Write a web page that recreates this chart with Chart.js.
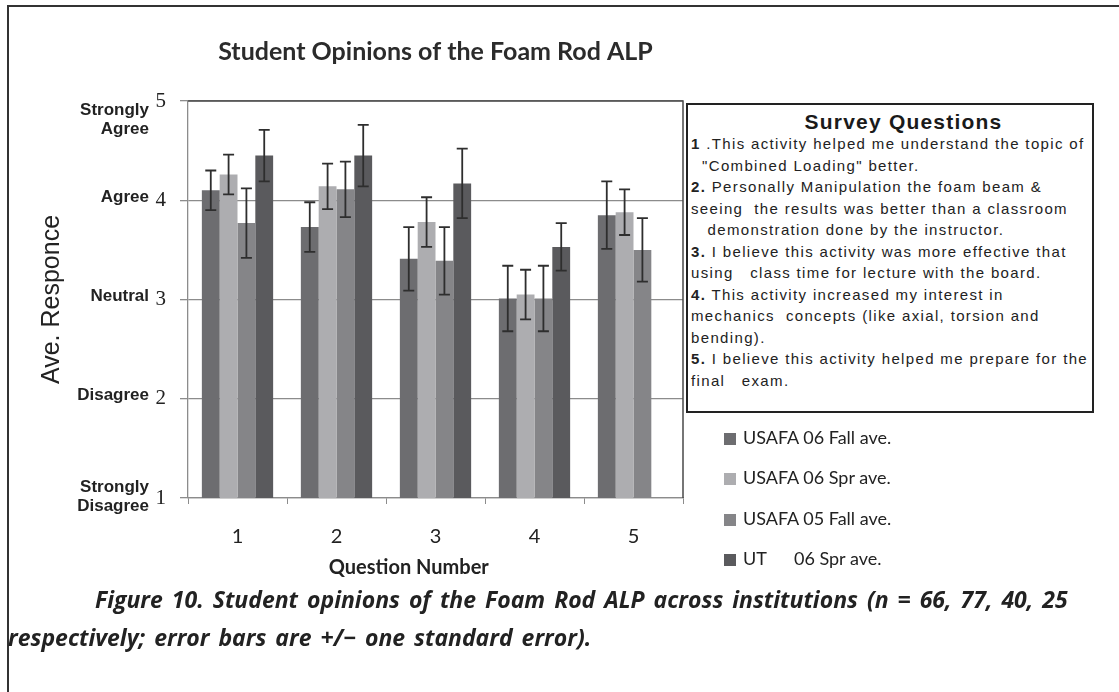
<!DOCTYPE html>
<html>
<head>
<meta charset="utf-8">
<script src="https://cdn.jsdelivr.net/npm/chart.js@4.4.1/dist/chart.umd.min.js"></script>
<style>
  body { margin: 0; background: #fff; }
  #wrap { position: relative; width: 1119px; height: 692px; overflow: hidden; background: #fff; }
  #frame { position: absolute; left: 7px; top: 5px; width: 1130px; height: 700px;
           border-top: 2px solid #333; border-left: 2px solid #333; }
  #chartBox { position: absolute; left: 0; top: 0; width: 868px; height: 692px; }
  #survey { position: absolute; left: 686px; top: 103px; width: 408px; height: 310px; box-sizing: border-box;
            border: 2px solid #222; background: #fff; padding: 5px 0 0 3px;
            font-family: "Liberation Sans", Arial, sans-serif; font-size: 15px; color: #222; }
  #survey .head { text-align: center; font-size: 21px; line-height: 23px; padding-left: 24px; color: #1a1a1a;
                  font-weight: 600; letter-spacing: 1.2px; }
  #survey .ln { white-space: pre; line-height: 21.5px; letter-spacing: 1.35px; }
  #legend { position: absolute; left: 724px; top: 417px; font-family: Lato, sans-serif; font-size: 18px; color: #222; }
  #legend .item { height: 40.3px; line-height: 40.3px; white-space: pre; }
  #legend .sw { display: inline-block; width: 12px; height: 12px; margin-right: 7px; vertical-align: -1px; }
  .cap { position: absolute; white-space: pre; font-family: "Open Sans", sans-serif; font-weight: bold; font-style: italic;
         font-size: 23px; word-spacing: 3px; color: #222; }
</style>
</head>
<body>
<div id="wrap">
  <div id="frame"></div>
  <div id="chartBox"><canvas id="foamChart" width="868" height="692"></canvas></div>
  <div id="survey"></div>
  <div id="legend"></div>
  <div class="cap" style="left:95px; top:583px;">Figure 10. Student opinions of the Foam Rod ALP across institutions (n = 66, 77, 40, 25</div>
  <div class="cap" style="left:8px; top:621px;">respectively; error bars are +/− one standard error).</div>
</div>
<script>
// question numbers on the x axis
const questions = ['1', '2', '3', '4', '5'];
const seriesNames = ['USAFA 06 Fall ave.', 'USAFA 06 Spr ave.', 'USAFA 05 Fall ave.', 'UT      06 Spr ave.'];
const seriesColors = ['#6d6d70', '#adadb0', '#858588', '#5a5a5d'];

// average responses (1 = strongly disagree .. 5 = strongly agree)
const usafa06Fall = [4.10, 3.73, 3.41, 3.01, 3.85];
const usafa06Spr  = [4.26, 4.14, 3.78, 3.05, 3.88];
const usafa05Fall = [3.77, 4.11, 3.39, 3.01, 3.50];
const ut06Spr     = [4.45, 4.45, 4.17, 3.53, null];

// +/- one standard error
const usafa06FallErr = [0.20, 0.25, 0.32, 0.33, 0.34];
const usafa06SprErr  = [0.20, 0.23, 0.25, 0.25, 0.23];
const usafa05FallErr = [0.35, 0.28, 0.34, 0.33, 0.32];
const ut06SprErr     = [0.26, 0.31, 0.35, 0.24, null];

const yTicks = [1, 2, 3, 4, 5];
const yTickWords = [['Strongly', 'Disagree'], ['Disagree'], ['Neutral'], ['Agree'], ['Strongly', 'Agree']];

const surveyTitle = 'Survey Questions';
const surveyLines = [
  ['1', ' .This activity helped me understand the topic of'],
  ['', '  "Combined Loading" better.'],
  ['2.', ' Personally Manipulation the foam beam &'],
  ['', 'seeing  the results was better than a classroom'],
  ['', '   demonstration done by the instructor.'],
  ['3.', ' I believe this activity was more effective that'],
  ['', 'using   class time for lecture with the board.'],
  ['4.', ' This activity increased my interest in'],
  ['', 'mechanics  concepts (like axial, torsion and'],
  ['', 'bending).'],
  ['5.', ' I believe this activity helped me prepare for the'],
  ['', 'final   exam.']
];

const allValues = [usafa06Fall, usafa06Spr, usafa05Fall, ut06Spr];
const allErrors = [usafa06FallErr, usafa06SprErr, usafa05FallErr, ut06SprErr];

// survey box text
const survey = document.getElementById('survey');
const head = document.createElement('div');
head.className = 'head';
head.textContent = surveyTitle;
survey.appendChild(head);
surveyLines.forEach(function (l) {
  const d = document.createElement('div');
  d.className = 'ln';
  if (l[0]) {
    const b = document.createElement('b');
    b.textContent = l[0];
    d.appendChild(b);
  }
  d.appendChild(document.createTextNode(l[1]));
  survey.appendChild(d);
});

// legend
const legend = document.getElementById('legend');
seriesNames.forEach(function (name, i) {
  const row = document.createElement('div');
  row.className = 'item';
  const sw = document.createElement('span');
  sw.className = 'sw';
  sw.style.background = seriesColors[i];
  row.appendChild(sw);
  row.appendChild(document.createTextNode(name));
  legend.appendChild(row);
});

// error bars drawn on top of the bars
const errorBars = {
  id: 'errorBars',
  afterDatasetsDraw(chart) {
    const ctx = chart.ctx;
    const y = chart.scales.y;
    ctx.save();
    ctx.strokeStyle = '#2e2e2e';
    ctx.lineWidth = 1.8;
    chart.data.datasets.forEach(function (ds, i) {
      const meta = chart.getDatasetMeta(i);
      meta.data.forEach(function (bar, j) {
        const v = ds.data[j];
        const e = allErrors[i][j];
        if (v == null || e == null) return;
        const top = y.getPixelForValue(v + e);
        const bot = y.getPixelForValue(v - e);
        ctx.beginPath();
        ctx.moveTo(bar.x, top); ctx.lineTo(bar.x, bot);
        ctx.moveTo(bar.x - 5.5, top); ctx.lineTo(bar.x + 5.5, top);
        ctx.moveTo(bar.x - 5.5, bot); ctx.lineTo(bar.x + 5.5, bot);
        ctx.stroke();
      });
    });
    ctx.restore();
  }
};

// word labels next to the y tick numbers, plus the plot frame
const yWords = {
  id: 'yWords',
  afterDraw(chart) {
    const ctx = chart.ctx;
    const y = chart.scales.y;
    const area = chart.chartArea;
    ctx.save();
    ctx.strokeStyle = '#4a4a4a';
    ctx.lineWidth = 1.5;
    ctx.beginPath();
    ctx.moveTo(area.left, area.top); ctx.lineTo(area.right, area.top); ctx.lineTo(area.right, area.bottom);
    ctx.stroke();
    ctx.font = 'bold 17px "Liberation Sans", Arial, sans-serif';
    ctx.fillStyle = '#222';
    ctx.textAlign = 'right';
    ctx.textBaseline = 'middle';
    yTicks.forEach(function (v, i) {
      const words = yTickWords[i];
      let center = y.getPixelForValue(v) - 3;
      if (words.length > 1) center = v === 5 ? y.getPixelForValue(v) + 19 : y.getPixelForValue(v) - 1;
      const startY = center - (words.length - 1) * 19 / 2;
      words.forEach(function (w, k) {
        ctx.fillText(w, 149, startY + k * 19);
      });
    });
    ctx.restore();
  }
};

const ctx = document.getElementById('foamChart').getContext('2d');
const foamChart = new Chart(ctx, {
  type: 'bar',
  data: {
    labels: questions,
    datasets: allValues.map(function (vals, i) {
      return {
        label: seriesNames[i],
        data: vals,
        backgroundColor: seriesColors[i],
        borderWidth: 0,
        categoryPercentage: 0.72,
        barPercentage: 1.0
      };
    })
  },
  options: {
    responsive: false,
    animation: false,
    layout: { padding: { left: 0, right: 185, top: 0, bottom: 104 } },
    plugins: {
      legend: { display: false },
      tooltip: { enabled: false },
      title: {
        display: true,
        fullSize: false,
        text: 'Student Opinions of the Foam Rod ALP',
        color: '#2b2b2b',
        font: { family: 'Lato', size: 25, weight: 'bold' },
        padding: { top: 37, bottom: 34 }
      }
    },
    scales: {
      x: {
        grid: { display: true, drawOnChartArea: false, drawTicks: true, tickLength: 6, color: '#8c8c8c', offset: true },
        border: { color: '#8c8c8c', width: 1.3 },
        ticks: { color: '#222', font: { family: 'Lato', size: 20 }, padding: 21 },
        title: {
          display: true,
          text: 'Question Number           ',
          color: '#222',
          font: { family: 'Lato', size: 20, weight: 'bold' },
          padding: { top: 0, bottom: 8 }
        },
        afterFit(scale) { scale.height = 90; }
      },
      y: {
        min: 1,
        max: 5,
        ticks: { stepSize: 1, color: '#222', font: { family: '"Liberation Serif", serif', size: 21 }, padding: 14 },
        grid: { color: '#8c8c8c', lineWidth: 1.3, tickLength: 8 },
        border: { color: '#8c8c8c', width: 1.3 },
        title: {
          display: true,
          text: 'Ave. Responce',
          color: '#222',
          font: { family: '"Liberation Sans", Arial, sans-serif', size: 25 },
          padding: { top: 37, bottom: 0 }
        },
        afterFit(scale) { scale.width = 188; }
      }
    }
  },
  plugins: [errorBars, yWords]
});
</script>
</body>
</html>
